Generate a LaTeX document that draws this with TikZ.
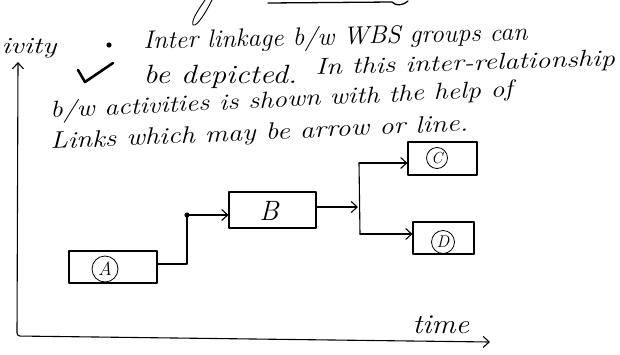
\documentclass[tikz,border=0pt]{standalone}
\usetikzlibrary{arrows.meta,calc}
\begin{document}
\begin{tikzpicture}[x=1pt,y=-1pt, line width=1.1pt, line cap=round, line join=round,
  box/.style={draw, rectangle, inner sep=0pt},
  circ/.style={draw, circle, line width=0.8pt, inner sep=0pt},
  arr/.style={-{Straight Barb[length=6pt,width=11pt,line width=1.1pt]}},
  hand/.style={anchor=base west, inner sep=0pt, font=\itshape}]
\useasboundingbox (0,0) rectangle (620,354);

% top fragments of the page above
\draw[line width=0.9pt] (212,0) .. controls (206,12) and (197,27) .. (193,25) .. controls (191,20) and (199,9) .. (205,0);
\draw[line width=1.3pt] (268,3) -- (392,2) .. controls (396,6) and (402,6) .. (408,1);

% text
\node[hand, font=\fontsize{22}{22}\selectfont\itshape] (act) at (1,53) {\scalebox{1.35}[1.05]{ivity}};
\fill (109,45) circle[radius=2.6pt];
\draw[line width=2.6pt] (78,70) -- (85,82) -- (113,63);
\node[hand, font=\fontsize{24}{24}\selectfont\itshape, rotate=1.3] (l1) at (143,49) {\scalebox{1.08}[1.05]{Inter linkage b/w WBS groups can}};
\node[hand, font=\fontsize{24}{24}\selectfont\itshape] (l2a) at (143,83) {\scalebox{1.3}[1.1]{be depicted.}};
\node[hand, font=\fontsize{22}{22}\selectfont\itshape, rotate=1.8] (l2b) at (315,75) {\scalebox{1.3}[1.05]{In this inter-relationship}};
\node[hand, font=\fontsize{22}{22}\selectfont\itshape, rotate=2.7] (l3) at (50,118) {\scalebox{1.26}[1.05]{b/w activities is shown with the help of}};
\node[hand, font=\fontsize{22}{22}\selectfont\itshape, rotate=2.5] (l4) at (50,149) {\scalebox{1.3}[1.08]{Links which may be arrow or line.}};

% axes
\coordinate (ytop) at (18,62);
\coordinate (orig) at (17,336);
\coordinate (xend) at (490,342);
\draw[{Straight Barb[length=6pt,width=11pt,line width=1.1pt]}-{Straight Barb[length=6pt,width=11pt,line width=1.1pt]}, rounded corners=3pt] (ytop) -- (orig) -- (xend);
\node[hand, font=\fontsize{26}{26}\selectfont\itshape] (time) at (412,333) {\scalebox{1.16}[1.05]{time}};

% boxes
\node[box, minimum width=88pt, minimum height=32pt] (A) at (113,267) {};
\node[box, minimum width=87pt, minimum height=36pt] (B) at (272.5,210) {};
\node[box, minimum width=69pt, minimum height=33pt] (C) at (442.5,158.5) {};
\node[box, minimum width=61pt, minimum height=32pt] (D) at (443.5,238) {};

\node[circ, minimum size=26pt, font=\fontsize{19}{19}\selectfont\itshape] (ca) at (105,269) {A};
\node[inner sep=0pt, font=\fontsize{28}{28}\selectfont\itshape] (cb) at (269,211) {B};
\node[circ, minimum size=21pt, font=\fontsize{16}{16}\selectfont\itshape] (cc) at (437,158) {C};
\node[circ, minimum size=23pt, font=\fontsize{17}{17}\selectfont\itshape] (cd) at (443,242) {D};

% links
\coordinate (j1) at (187,215);
\draw[arr] (A.east) ++(0,-3) -| (j1) -- (B.west |- j1);
\fill (j1) circle[radius=2.6pt];
\coordinate (j2) at (358,207);
\draw[arr] (B.east |- j2) -- (j2);
\coordinate (jc) at (359,163);
\coordinate (jd) at (360,234);
\draw (jc) -- (jd);
\draw[arr] (jc) -- (C.west |- jc);
\draw[arr] (jd) -- (D.west |- jd);
\end{tikzpicture}
\end{document}
